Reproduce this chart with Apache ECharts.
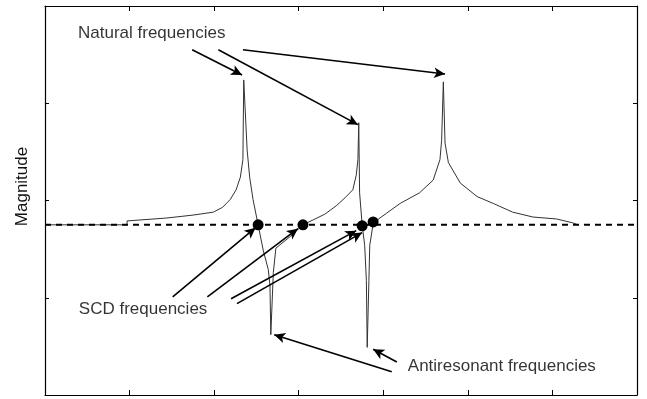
<!DOCTYPE html>
<html>
<head>
<meta charset="utf-8">
<script src="https://cdn.jsdelivr.net/npm/echarts@6/dist/echarts.min.js"></script>
<style>
html,body{margin:0;padding:0;background:#fff;}
#chart{width:647px;height:399px;}
</style>
</head>
<body>
<div id="chart"></div>
<script>
// Frequency response magnitude curve (x: frequency, y: magnitude, arbitrary units)
var curveX = [0, 0.97, 0.97, 1.44, 1.75, 1.99, 2.10, 2.19, 2.26, 2.31, 2.34, 2.35, 2.39, 2.42, 2.46, 2.52, 2.58, 2.64, 2.66, 2.67, 2.70, 2.73, 2.90, 3.05, 3.17, 3.31, 3.45, 3.55, 3.64, 3.68, 3.70, 3.71, 3.72, 3.75, 3.78, 3.80, 3.81, 3.83, 3.84, 3.88, 3.96, 4.04, 4.20, 4.43, 4.59, 4.67, 4.69, 4.71, 4.73, 4.77, 4.91, 5.11, 5.30, 5.53, 5.77, 6.05, 6.24, 6.30];
var curveY = [1.75, 1.75, 1.79, 1.82, 1.85, 1.88, 1.93, 2.01, 2.11, 2.24, 2.42, 3.24, 2.52, 2.24, 2.01, 1.75, 1.49, 1.29, 1.13, 0.62, 1.26, 1.51, 1.63, 1.75, 1.80, 1.86, 1.95, 2.03, 2.11, 2.26, 2.42, 2.80, 2.08, 1.75, 1.54, 1.18, 0.49, 1.18, 1.54, 1.76, 1.82, 1.87, 1.97, 2.08, 2.21, 2.42, 2.62, 3.22, 2.59, 2.39, 2.18, 2.04, 1.97, 1.88, 1.83, 1.81, 1.77, 1.75];

// Reference (zero) level drawn dashed
var dashedLevel = 1.75;

// SCD frequencies (dots)
var scdX = [2.52, 3.05, 3.75, 3.88];
var scdY = [1.75, 1.75, 1.74, 1.78];

// Annotation arrows: start and end points
var arrowX1 = [1.74, 2.05, 2.34, 1.51, 1.92, 2.20, 2.27, 4.10, 4.16];
var arrowY1 = [3.55, 3.55, 3.55, 1.01, 1.01, 0.99, 0.94, 0.24, 0.34];
var arrowX2 = [2.33, 3.70, 4.73, 2.49, 2.99, 3.68, 3.75, 2.71, 3.88];
var arrowY2 = [3.29, 2.78, 3.30, 1.72, 1.71, 1.69, 1.67, 0.62, 0.47];

// Annotation texts
var noteTexts = ['Natural frequencies', 'SCD frequencies', 'Antiresonant frequencies'];
var noteX = [0.39, 0.40, 4.29];
var noteY = [3.72, 0.88, 0.30];

var yAxisName = 'Magnitude';

var chart = echarts.init(document.getElementById('chart'), null, {renderer: 'canvas'});

var curveData = curveX.map(function (x, i) { return [x, curveY[i]]; });
var scdData = scdX.map(function (x, i) { return [x, scdY[i]]; });
var arrowData = arrowX1.map(function (x, i) {
  return [
    {coord: [x, arrowY1[i]], symbol: 'none', symbolSize: 0},
    {coord: [arrowX2[i], arrowY2[i]], symbol: 'arrow', symbolSize: [8, 11]}
  ];
});
var noteData = noteTexts.map(function (t, i) { return {name: t, value: [noteX[i], noteY[i]]}; });

var FONT = "'Liberation Sans', Arial, sans-serif";

function xAx(pos) {
  return {
    type: 'value', position: pos, min: 0, max: 7, interval: 1,
    axisLine: {show: true, onZero: false, lineStyle: {color: '#000', width: 1.2}},
    axisTick: {show: true, inside: true, length: 5, lineStyle: {color: '#000', width: 1}},
    axisLabel: {show: false}, splitLine: {show: false}
  };
}
function yAx(pos, named) {
  var a = {
    type: 'value', position: pos, min: 0, max: 4, interval: 1,
    axisLine: {show: true, onZero: false, lineStyle: {color: '#000', width: 1.2}},
    axisTick: {show: true, inside: true, length: 4, lineStyle: {color: '#000', width: 1}},
    axisLabel: {show: false}, splitLine: {show: false}
  };
  if (named) {
    a.name = yAxisName;
    a.nameLocation = 'middle';
    a.nameGap = 14;
    a.nameRotate = 90;
    a.nameTextStyle = {fontFamily: FONT, fontSize: 17, color: '#111', padding: [0, 0, 0, 28]};
  }
  return a;
}

chart.setOption({
  animation: false,
  backgroundColor: '#ffffff',
  grid: {left: 45, right: 10, top: 6, bottom: 4, containLabel: false},
  xAxis: [xAx('bottom'), xAx('top')],
  yAxis: [yAx('left', true), yAx('right', false)],
  series: [
    {
      type: 'line', data: curveData, showSymbol: false, silent: true,
      lineStyle: {color: '#333', width: 1}, z: 2
    },
    {
      type: 'line', data: [[0, dashedLevel], [7, dashedLevel]], showSymbol: false, silent: true,
      lineStyle: {color: '#000', width: 2, type: [6, 5]}, z: 3
    },
    {
      type: 'scatter', data: scdData, symbol: 'circle', symbolSize: 11, silent: true,
      itemStyle: {color: '#000', opacity: 1}, z: 5
    },
    {
      type: 'line', data: [], silent: true,
      markLine: {
        silent: true, animation: false,
        symbol: ['none', 'arrow'],
        symbolSize: [8, 11],
        lineStyle: {color: '#000', width: 1.6, type: 'solid', opacity: 1},
        itemStyle: {color: '#000'},
        label: {show: false},
        emphasis: {disabled: true},
        data: arrowData
      },
      z: 4
    },
    {
      type: 'scatter', data: noteData, symbolSize: 0, silent: true,
      label: {
        show: true, position: 'right', distance: 0, formatter: '{b}',
        fontFamily: FONT, fontSize: 17, color: '#000'
      },
      z: 6
    }
  ]
});
</script>
</body>
</html>
